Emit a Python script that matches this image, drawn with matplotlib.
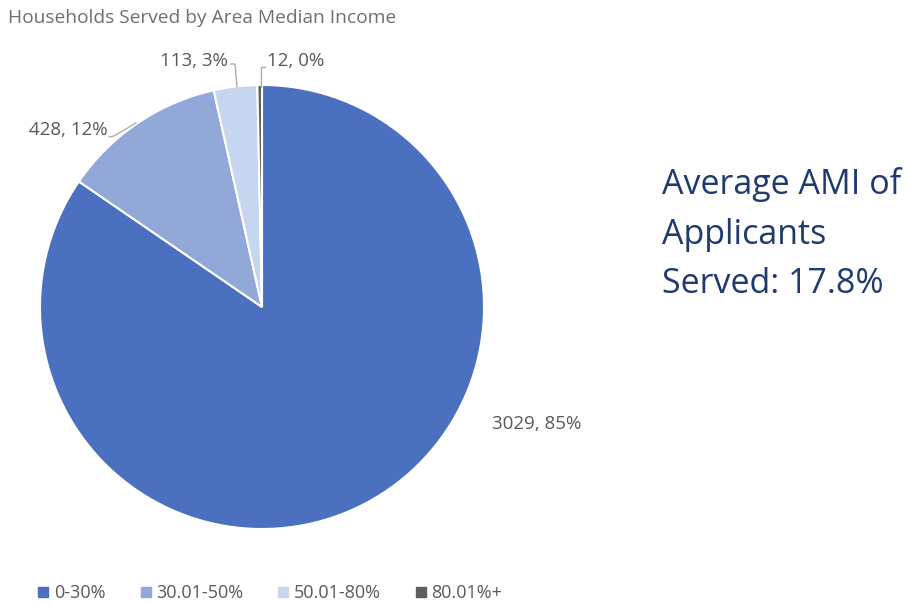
import numpy as np
import matplotlib.pyplot as plt

categories = ['0-30%', '30.01-50%', '50.01-80%', '80.01%+']
households = [3029, 428, 113, 12]
percents = [85, 12, 3, 0]
colors = ['#4A70BF', '#91A8D8', '#C5D6EE', '#5E5E5E']

plt.rcParams['font.family'] = ['Open Sans', 'DejaVu Sans']

W, H = 907, 606
fig = plt.figure(figsize=(W / 100, H / 100), dpi=100)

# pie box in pixels: center (262, 307), radius 222
cx, cy, r = 262, 307, 222
ax = fig.add_axes([(cx - r) / W, (H - cy - r) / H, 2 * r / W, 2 * r / H])
wedges, _ = ax.pie(households, colors=colors, startangle=90, counterclock=False,
                   radius=1, wedgeprops=dict(edgecolor='white', linewidth=1.5))
ax.set_xlim(-1, 1)
ax.set_ylim(-1, 1)
ax.set_aspect('equal')
ax.axis('off')

def d(px, py):
    return ((px - cx) / r, (cy - py) / r)

labels = ['%d, %d%%' % (n, p) for n, p in zip(households, percents)]
lab_col = '#595959'
fs = 13.5
ax.text(*d(537, 424), labels[0], ha='center', va='center', fontsize=fs, color=lab_col)
ax.text(*d(108, 130), labels[1], ha='right', va='center', fontsize=fs, color=lab_col)
ax.text(*d(228, 61), labels[2], ha='right', va='center', fontsize=fs, color=lab_col)
ax.text(*d(267, 61), labels[3], ha='left', va='center', fontsize=fs, color=lab_col)

line_col = '#A6A6A6'
for pts in ([(109, 137), (114, 136), (136, 123)],
            [(231, 64), (235, 64), (237, 87)],
            [(261, 87), (261, 67), (265, 67)]):
    xs, ys = zip(*[d(*p) for p in pts])
    ax.plot(xs, ys, color=line_col, lw=0.9, clip_on=False)

fig.text(8 / W, 1 - 18 / H, 'Households Served by Area Median Income',
         fontsize=13.8, color='#6F6F6F', ha='left', va='center')

fig.text(662 / W, 1 - 234 / H, 'Average AMI of\nApplicants\nServed: 17.8%',
         fontsize=24.5, color='#1F3A6E', ha='left', va='center', linespacing=1.6)

handles = [plt.Line2D([], [], marker='s', ls='', color=c, markersize=6.5) for c in colors]
fig.legend(handles, categories, loc='center left', bbox_to_anchor=(20 / W, 1 - 593 / H),
           ncol=4, frameon=False, fontsize=13, labelcolor='#595959',
           handletextpad=0.2, columnspacing=1.8, handlelength=0.8)

fig.savefig('out.png', dpi=100)
